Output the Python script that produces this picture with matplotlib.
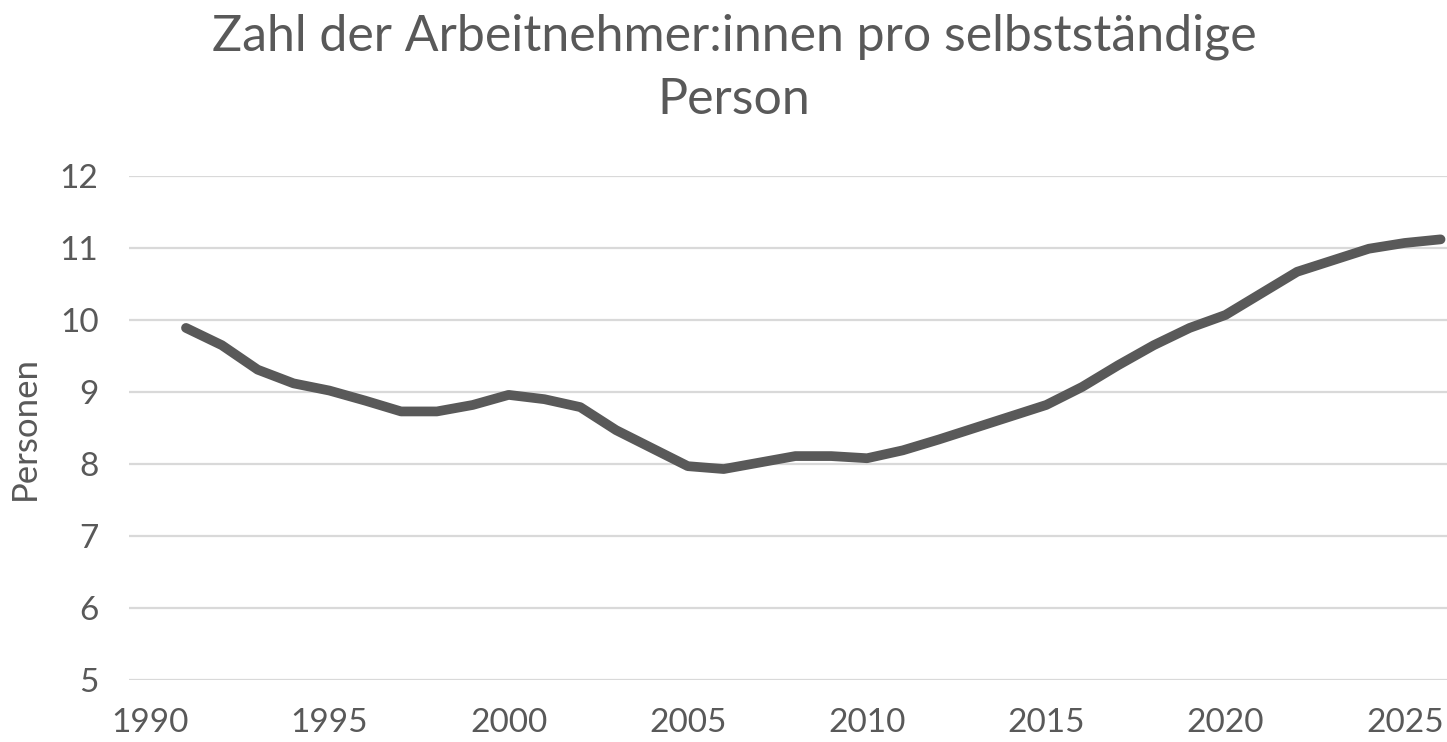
import matplotlib
matplotlib.use('Agg')
import matplotlib.pyplot as plt

# Daten: Arbeitnehmer:innen pro selbstständige Person
jahre = list(range(1991, 2027))
personen = [9.89, 9.65, 9.31, 9.12, 9.02, 8.88, 8.73, 8.73, 8.82, 8.96,
            8.90, 8.79, 8.47, 8.22, 7.97, 7.93, 8.02, 8.11, 8.11, 8.08,
            8.19, 8.34, 8.50, 8.66, 8.82, 9.07, 9.37, 9.65, 9.89, 10.07,
            10.37, 10.67, 10.83, 10.99, 11.07, 11.12]
x_ticks = [1990, 1995, 2000, 2005, 2010, 2015, 2020, 2025]
y_ticks = [5, 6, 7, 8, 9, 10, 11, 12]

TXT = '#595959'
plt.rcParams['font.family'] = ['Lato', 'DejaVu Sans']

W, H = 1447, 742
fig = plt.figure(figsize=(W / 100, H / 100), dpi=100)
ax = fig.add_axes([129 / W, 1 - 680 / H, (W - 129) / W, (680 - 176) / H])

ax.plot(jahre, personen, color='#595959', lw=7, solid_capstyle='round',
        solid_joinstyle='round', zorder=3)

ax.set_xlim(1989.41, 2026.18)
ax.set_ylim(5, 12)
ax.set_xticks(x_ticks)
ax.set_yticks(y_ticks)
ax.grid(axis='y', color='#d9d9d9', lw=1.6)
ax.set_axisbelow(True)
for s in ax.spines.values():
    s.set_visible(False)
ax.tick_params(axis='both', length=0, labelsize=24, labelcolor=TXT)
ax.tick_params(axis='y', pad=22)
ax.tick_params(axis='x', pad=20)

fig.text(25 / W, 1 - 428 / H, 'Personen', rotation=90, ha='center', va='center',
         fontsize=25, color=TXT)
fig.text(734 / W, 1 - 37 / H, 'Zahl der Arbeitnehmer:innen pro selbstständige',
         ha='center', va='center', fontsize=36, color=TXT)
fig.text(734 / W, 1 - 100 / H, 'Person', ha='center', va='center',
         fontsize=36, color=TXT)

fig.savefig('out.png', dpi=100)
